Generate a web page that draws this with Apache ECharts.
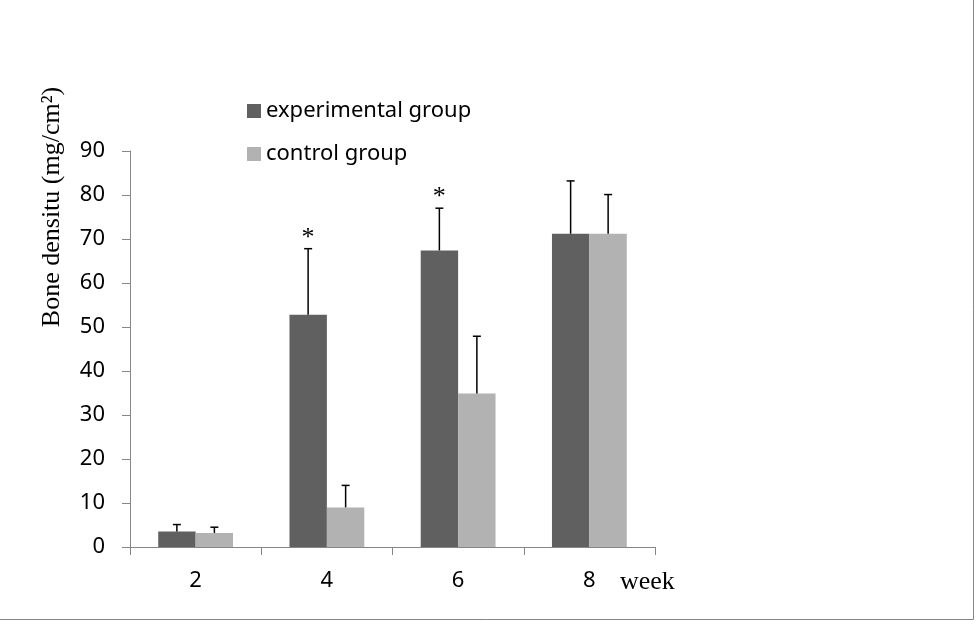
<!DOCTYPE html>
<html><head><meta charset="utf-8">
<script src="https://cdn.jsdelivr.net/npm/echarts@6/dist/echarts.min.js"></script>
<style>html,body{margin:0;padding:0;background:#fff}#c{width:978px;height:638px}</style>
</head><body><div id="c"></div>
<script>
const categories = ['2', '4', '6', '8'];
const expValues = [3.5, 52.8, 67.4, 71.2];
const ctrlValues = [3.2, 9.0, 34.9, 71.2];
const expErr = [1.6, 15.0, 9.6, 12.0];
const ctrlErr = [1.3, 5.0, 13.0, 8.9];
const expSig = ['', '*', '*', ''];
const ctrlSig = ['', '', '', ''];
const yTicks = [0, 10, 20, 30, 40, 50, 60, 70, 80, 90];

const chart = echarts.init(document.getElementById('c'));
const font = '"Noto Sans", "Open Sans", sans-serif';
const serif = '"Liberation Serif", "DejaVu Serif", serif';

function errSeries(vals, errs, sig, side) {
  return {
    type: 'custom',
    z: 5,
    data: vals.map((v, i) => [i, v, v + errs[i], sig[i]]),
    renderItem: function (params, api) {
      const band = api.size([1, 0])[0];
      const off = side * band * 0.1429;
      const base = api.coord([api.value(0), api.value(1)]);
      const top = api.coord([api.value(0), api.value(2)]);
      const x = base[0] + off;
      const children = [
        { type: 'line', shape: { x1: x, y1: base[1], x2: x, y2: top[1] }, style: { stroke: '#000', lineWidth: 1.5 } },
        { type: 'line', shape: { x1: x - 4, y1: top[1], x2: x + 4, y2: top[1] }, style: { stroke: '#000', lineWidth: 1.5 } }
      ];
      const s = sig[params.dataIndex];
      if (s) {
        children.push({ type: 'text', style: { text: s, x: x, y: top[1] + 2, textAlign: 'center', textVerticalAlign: 'bottom', font: '26px ' + serif, fill: '#000' } });
      }
      return { type: 'group', children: children };
    }
  };
}

chart.setOption({
  animation: false,
  grid: { left: 130, right: 323, top: 151, bottom: 91 },
  legend: {
    orient: 'vertical', left: 242, top: 95, itemWidth: 14, itemHeight: 14, itemGap: 21,
    icon: 'rect',
    textStyle: { fontFamily: font, fontSize: 22, color: '#000' },
    data: ['experimental group', 'control group']
  },
  xAxis: {
    type: 'category', data: categories,
    axisLine: { lineStyle: { color: '#868686', width: 1 } },
    axisTick: { show: true, length: 8, lineStyle: { color: '#868686' }, alignWithLabel: false },
    axisLabel: { fontFamily: font, fontSize: 22, color: '#000', margin: 23 }
  },
  yAxis: {
    type: 'value', min: 0, max: 90, interval: 10,
    splitLine: { show: false },
    axisLine: { show: true, lineStyle: { color: '#868686', width: 1 } },
    axisTick: { show: true, length: 8, lineStyle: { color: '#868686' } },
    axisLabel: { fontFamily: font, fontSize: 22, color: '#000', margin: 25,
      formatter: v => yTicks.includes(v) ? String(v) : '' }
  },
  graphic: [
    { type: 'text', x: 52, y: 207, rotation: Math.PI / 2,
      style: { text: 'Bone densitu (mg/cm²)', font: '26px ' + serif, fill: '#000', textAlign: 'center', textVerticalAlign: 'middle' } },
    { type: 'text', x: 620, y: 582,
      style: { text: 'week', font: '26px ' + serif, fill: '#000', textAlign: 'left', textVerticalAlign: 'middle' } },
    { type: 'line', shape: { x1: 973.5, y1: 0, x2: 973.5, y2: 619.5 }, style: { stroke: '#868686', lineWidth: 1 } },
    { type: 'line', shape: { x1: 0, y1: 619.5, x2: 973.5, y2: 619.5 }, style: { stroke: '#868686', lineWidth: 1 } }
  ],
  series: [
    { name: 'experimental group', type: 'bar', data: expValues, barGap: '0%', barCategoryGap: '43%', itemStyle: { color: '#606060' } },
    { name: 'control group', type: 'bar', data: ctrlValues, itemStyle: { color: '#b2b2b2' } },
    errSeries(expValues, expErr, expSig, -1),
    errSeries(ctrlValues, ctrlErr, ctrlSig, 1)
  ]
});
</script></body></html>
